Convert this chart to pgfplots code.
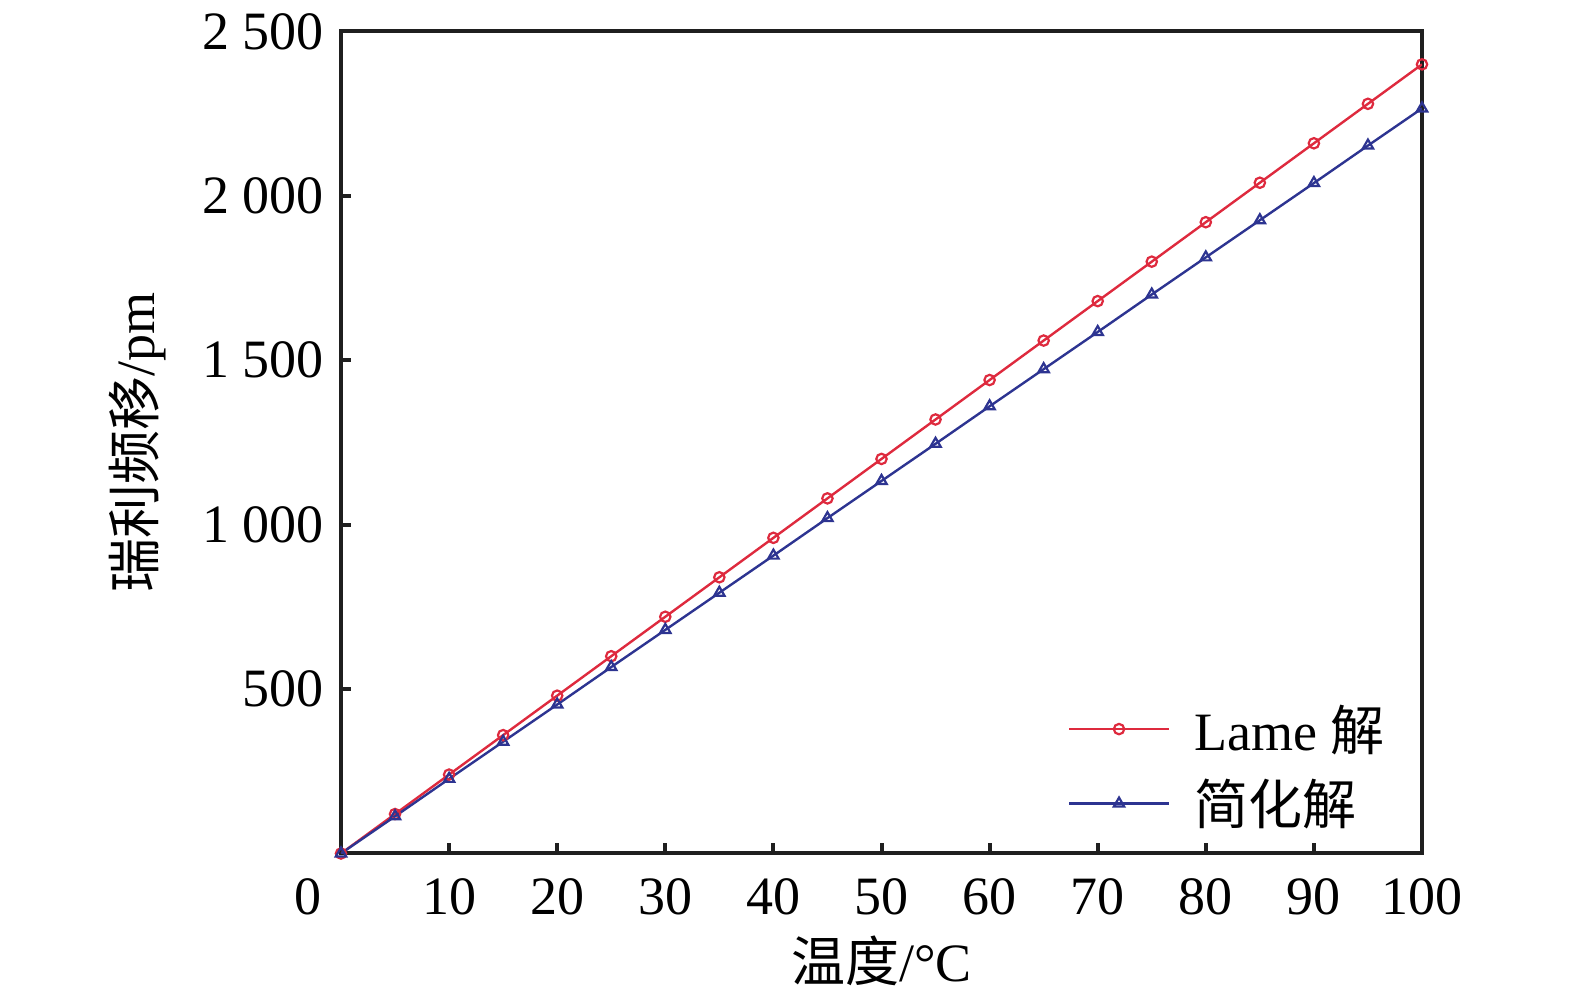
\documentclass[border=0pt]{standalone}
\usepackage{fontspec}
\setmainfont{Liberation Serif}
\newfontfamily\cjk{Noto Sans CJK SC}
\usepackage{pgfplots}
\pgfplotsset{compat=1.18}
\definecolor{lred}{RGB}{222,42,62}
\definecolor{lblue}{RGB}{45,52,145}
\begin{document}
\begin{tikzpicture}
\begin{axis}[
  scale only axis, width=540.5pt, height=411pt,
  xmin=0, xmax=100, ymin=0, ymax=2500,
  axis line style={line width=2pt, black!88},
  xtick={10,20,...,100},
  ytick={500,1000,1500,2000,2500},
  yticklabels={500,1 000,1 500,2 000,2 500},
  extra x ticks={0},
  extra x tick style={major tick length=0pt, xticklabel style={xshift=-16.5pt}},
  tick align=inside, xtick pos=bottom, ytick pos=left,
  major tick length=5pt,
  tick style={line width=2pt, black!88},
  font=\fontsize{27}{32}\selectfont,
  /pgf/number format/assume math mode=true,
  xticklabel style={yshift=-9pt},
  yticklabel style={xshift=-5pt},
  xlabel={{\cjk 温度}/°C},
  ylabel={{\cjk 瑞利频移}/pm},
  xlabel style={at={(axis description cs:0.5,-0.131)}, anchor=center},
  ylabel style={at={(axis description cs:-0.188,0.5)}, anchor=center},
  legend style={at={(axis description cs:0.672,0.106)}, anchor=west,
    draw=none, fill=none, inner sep=0pt, row sep=9pt, column sep=10pt,
    font=\fontsize{27}{32}\selectfont},
  legend cell align=left,
  legend image code/.code={\draw[mark repeat=2,mark phase=2,#1] plot coordinates {(0pt,0pt)(25pt,0pt)(50pt,0pt)};},
]
\coordinate (o) at (rel axis cs:0,0);
\addplot[lred, line width=1.2pt, mark=o, mark size=2.6pt, mark options={line width=1.1pt}] coordinates {
(0,0)(5,120)(10,240)(15,360)(20,480)(25,600)(30,720)(35,840)(40,960)(45,1080)(50,1200)
(55,1320)(60,1440)(65,1560)(70,1680)(75,1800)(80,1920)(85,2040)(90,2160)(95,2280)(100,2400)};
\addlegendentry{Lame {\cjk 解}}
\addplot[lblue, line width=1.2pt, mark=triangle, mark size=3pt, mark options={line width=1.1pt}] coordinates {
(0,0)(5,113)(10,227)(15,340)(20,453)(25,567)(30,680)(35,793)(40,906)(45,1020)(50,1133)
(55,1246)(60,1360)(65,1473)(70,1586)(75,1700)(80,1813)(85,1926)(90,2039)(95,2153)(100,2266)};
\addlegendentry{{\cjk 简化解}}
\end{axis}
\path (o) ++(-170.5pt,-73.25pt);
\path (o) ++(617pt,426.75pt);
\end{tikzpicture}
\end{document}
